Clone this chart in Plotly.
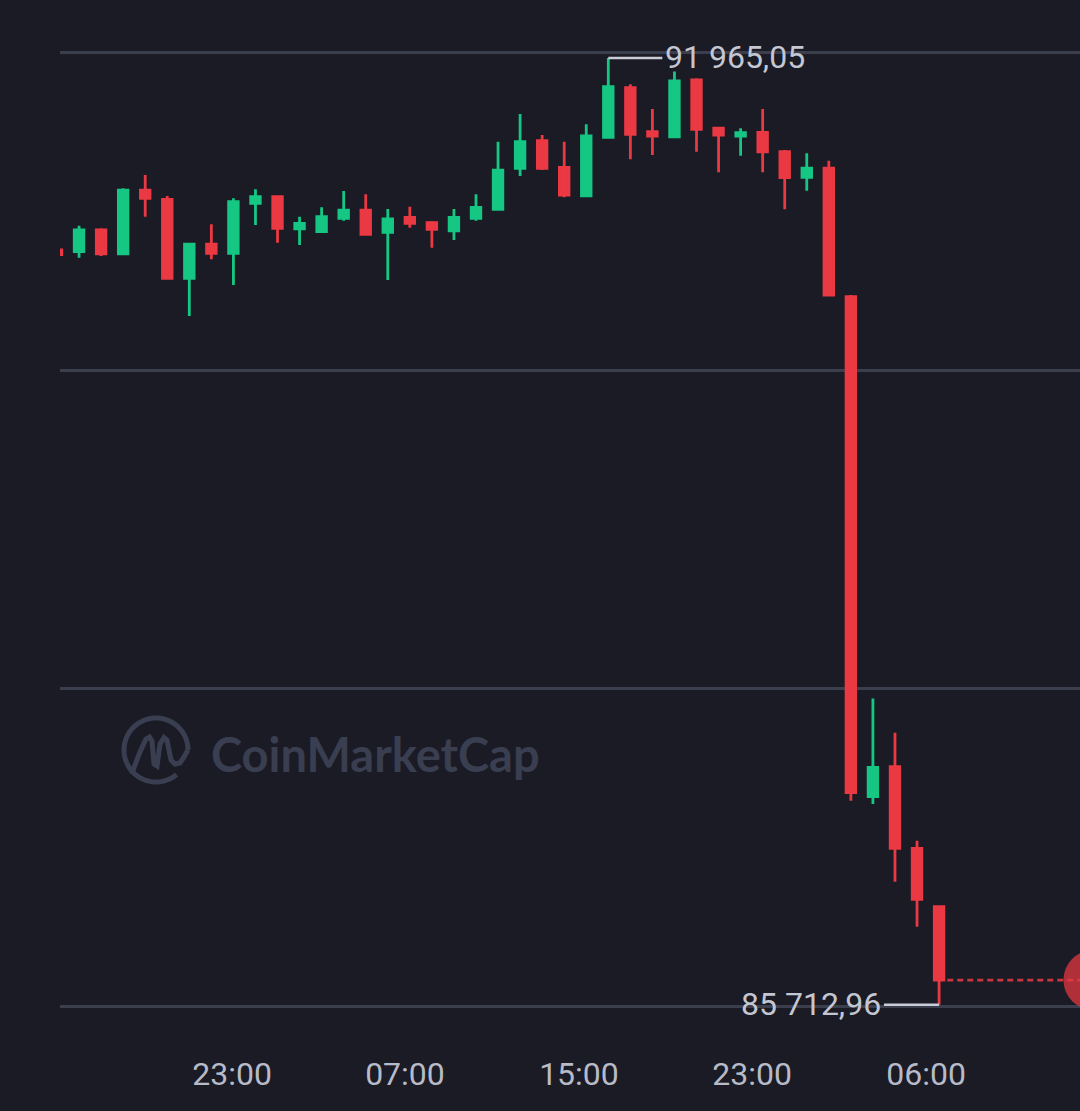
import numpy as np
import plotly.graph_objects as go

# ---------------- data ----------------
candle_index = list(range(41))
opens = [90697, 90686, 90829, 90671, 91093, 91032, 90510, 90735, 90675, 91005,
         91049, 90836, 90818, 90906, 90961, 90814, 90913, 90877, 90823, 90906,
         90966, 91237, 91419, 91243, 91054, 91441, 91769, 91478, 91445, 91820,
         91501, 91450, 91474, 91346, 91177, 91237, 90389, 87087, 87285, 86746,
         86360]
highs = [90700, 90858, 90840, 91105, 91192, 91054, 90741, 90867, 91038, 91098,
         91052, 90917, 90979, 91087, 91065, 90968, 90983, 90889, 90968, 91065,
         91412, 91595, 91456, 91412, 91527, 91965.05, 91791, 91628, 91875, 91831,
         91507, 91501, 91628, 91357, 91336, 91287, 90400, 87736, 87509, 86796,
         86365]
lows = [90664, 90646, 90657, 90664, 90917, 90503, 90261, 90636, 90466, 90862,
        90745, 90730, 90811, 90890, 90796, 90499, 90844, 90712, 90763, 90890,
        90961, 91186, 91225, 91045, 91049, 91435, 91296, 91324, 91435, 91346,
        91210, 91320, 91210, 90966, 91089, 90393, 87060, 87038, 86525, 86228,
        85712.96]
closes = [90667, 90829, 90671, 91093, 91038, 90510, 90735, 90675, 91016, 91049,
          90840, 90873, 90917, 90961, 90801, 90902, 90873, 90834, 90913, 90979,
          91225, 91412, 91237, 91060, 91450, 91775, 91461, 91450, 91813, 91494,
          91456, 91472, 91346, 91175, 91237, 90400, 87113, 87281, 86746, 86409,
          85876]

tick_positions = [7.94, 15.78, 23.67, 31.52, 39.41]
tick_labels = ["23:00", "07:00", "15:00", "23:00", "06:00"]
grid_levels = [85700, 87800, 89900, 92000]

max_label = "91 965,05"
min_label = "85 712,96"
watermark_text = "CoinMarketCap"

# ---------------- style ----------------
W, H = 1080, 1111
ML, MR, MT, MB = 60, 0, 0, 71
PW, PH = W - ML - MR, H - MT - MB
BG = "#1a1b25"
GREEN = "#16c784"
RED = "#ea3943"
GRID = "#3b3e4c"
TEXT = "#c4c7d2"
TICK = "#b7bac7"
WM = "#3a3e51"
FONT = "Roboto"


def fx(px):
    return (px - ML) / PW


def fy(py):
    return (MT + PH - py) / PH


fig = go.Figure()

fig.add_trace(go.Candlestick(
    x=candle_index, open=opens, high=highs, low=lows, close=closes,
    increasing=dict(line=dict(color=GREEN, width=2.8), fillcolor=GREEN),
    decreasing=dict(line=dict(color=RED, width=2.8), fillcolor=RED),
    whiskerwidth=0, hoverinfo="skip", showlegend=False,
))

# max / min markers derived from data
imax = int(np.argmax(highs))
imin = int(np.argmin(lows))
vmax = highs[imax]
vmin = lows[imin]
last_i = candle_index[-1]
last_c = closes[-1]

shapes = []
shapes.append(dict(type="line", xref="x", yref="y", x0=imax, x1=imax + 2.45,
                   y0=vmax, y1=vmax, line=dict(color="#c9ccd6", width=2.6)))
shapes.append(dict(type="line", xref="x", yref="y", x0=imin - 2.5, x1=imin,
                   y0=vmin, y1=vmin, line=dict(color="#c9ccd6", width=2.6)))
# dashed last-price line
shapes.append(dict(type="line", xref="x", yref="y", x0=last_i + 0.37, x1=50,
                   y0=last_c, y1=last_c,
                   line=dict(color="rgba(234,57,67,0.85)", width=2.8, dash="6px,4px")))
# pulse circle at right edge
shapes.append(dict(type="circle", xref="x", yref="y", xsizemode="pixel", ysizemode="pixel",
                   xanchor=last_i + 7.0, yanchor=last_c, x0=-30, x1=30, y0=-30, y1=30,
                   fillcolor="rgba(234,57,67,0.72)", line=dict(width=0)))

# watermark logo (ring + M), in pixel -> paper coords
cx, cy, r = 156, 750, 32
th = np.radians(np.linspace(0, 310, 80))
ring_pts = [(cx + r * np.cos(t), cy - r * np.sin(t)) for t in th]
path = "M " + " L ".join(f"{fx(x):.5f},{fy(y):.5f}" for x, y in ring_pts)
shapes.append(dict(type="path", xref="paper", yref="paper", path=path,
                   line=dict(color=WM, width=5), layer="below"))
m_pts = [(131.5, 774), (140, 752), (146, 739), (149.5, 737), (152, 741), (154, 764),
         (157, 766), (160, 744), (164, 737.5), (167, 740), (171, 760), (175, 764),
         (180, 763), (184, 757), (188, 750)]
path2 = "M " + " L ".join(f"{fx(x):.5f},{fy(y):.5f}" for x, y in m_pts)
shapes.append(dict(type="path", xref="paper", yref="paper", path=path2,
                   line=dict(color=WM, width=5), layer="below"))

annotations = [
    dict(x=imax + 2.45, y=vmax, xref="x", yref="y", text=max_label, showarrow=False,
         xanchor="left", yanchor="middle", xshift=1, yshift=1,
         font=dict(family=FONT, size=32, color=TEXT)),
    dict(x=imin - 2.5, y=vmin, xref="x", yref="y", text=min_label, showarrow=False,
         xanchor="right", yanchor="middle", xshift=-1, yshift=1,
         font=dict(family=FONT, size=32, color=TEXT)),
    dict(x=fx(209), y=fy(754), xref="paper", yref="paper", text=f"<b>{watermark_text}</b>",
         showarrow=False, xanchor="left", yanchor="middle",
         font=dict(family="Lato", size=47, color=WM)),
]

fig.update_layout(
    width=W, height=H,
    margin=dict(l=ML, r=MR, t=MT, b=MB, pad=0),
    paper_bgcolor=BG, plot_bgcolor=BG,
    boxgap=0.38,
    showlegend=False,
    hovermode=False,
    shapes=shapes,
    annotations=annotations,
    xaxis=dict(
        range=[0.136, 46.39], rangeslider=dict(visible=False),
        tickmode="array", tickvals=tick_positions, ticktext=tick_labels,
        showgrid=False, zeroline=False, showline=False, ticks="",
        ticklabelstandoff=12,
        tickfont=dict(family=FONT, size=32, color=TICK),
    ),
    yaxis=dict(
        range=[85480, 92348], tickmode="array", tickvals=grid_levels,
        showticklabels=False, showgrid=True, gridcolor=GRID, gridwidth=2.5,
        zeroline=False, showline=False, ticks="",
    ),
)

fig.write_html(
    "out.html",
    config={"displayModeBar": False},
    post_script="document.body.style.margin='0';document.body.style.background='%s';"
                "document.documentElement.style.overflow='hidden';" % BG,
)
